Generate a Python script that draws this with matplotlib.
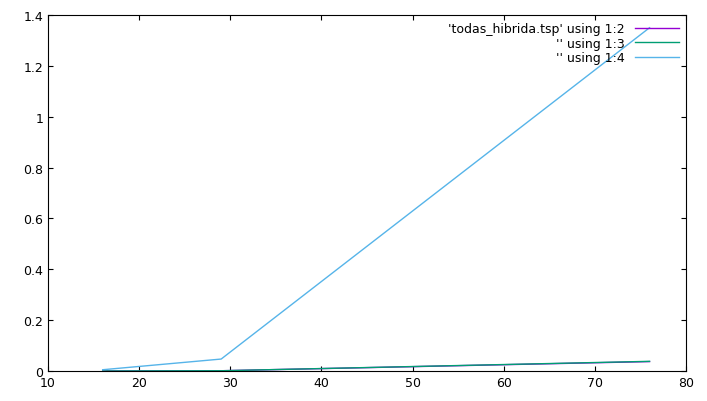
import matplotlib
matplotlib.use('Agg')
import matplotlib.pyplot as plt

x = [16, 29, 76]
col2 = [0.0, 0.001, 0.037]
col3 = [0.0, 0.001, 0.038]
col4 = [0.005, 0.047, 1.35]

fig = plt.figure(figsize=(7.07, 4.02), dpi=100)
ax = fig.add_axes([48/707, 30/402, (686-48)/707, (372-16)/402])
ax.plot(x, col2, color='#9400d3', lw=1, label="'todas_hibrida.tsp' using 1:2")
ax.plot(x, col3, color='#009e73', lw=1, label="'' using 1:3")
ax.plot(x, col4, color='#56b4e9', lw=1, label="'' using 1:4")
ax.set_xlim(10, 80)
ax.set_ylim(0, 1.4)
ax.set_xticks(range(10, 81, 10))
ax.set_yticks([0, 0.2, 0.4, 0.6, 0.8, 1, 1.2, 1.4])
ax.set_yticklabels(['0', '0.2', '0.4', '0.6', '0.8', '1', '1.2', '1.4'])
ax.tick_params(direction='in', labelsize=9, top=True, right=True)
ax.legend(loc='upper right', frameon=False, fontsize=9, markerfirst=False,
          handlelength=3.5, borderaxespad=0.2, labelspacing=0.1)
fig.savefig('out.png')
